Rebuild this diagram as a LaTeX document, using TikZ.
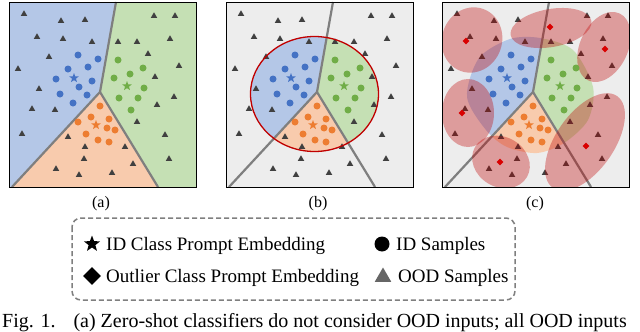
\documentclass[tikz,border=0pt]{standalone}
\usepackage{fontspec}
\setmainfont{Liberation Serif}
\usepackage{xcolor}
\usetikzlibrary{shapes.geometric}

\definecolor{regblue}{HTML}{B4C7E7}
\definecolor{reggreen}{HTML}{C5E0B4}
\definecolor{regorange}{HTML}{F8CBAD}
\definecolor{dotblue}{HTML}{4472C4}
\definecolor{dotgreen}{HTML}{70AD47}
\definecolor{dotorange}{HTML}{ED7D31}
\definecolor{bggray}{HTML}{EDEDED}
\definecolor{linegray}{HTML}{7F7F7F}
\definecolor{oodgray}{HTML}{404040}
\definecolor{outred}{HTML}{C00000}

% marker positions, pixel units from the top left corner of panel (a)
\newcommand\oodlist{24/14, 61/21, 85/20, 154/16, 175/16, 37/37, 63/39, 92/42, 118/42, 137/42, 170/39, 148/54, 49/57, 18/69, 179/66, 155/77, 39/89, 174/97, 32/109, 55/110, 157/105, 137/122, 22/134, 165/135, 68/137, 125/147, 85/147, 84/159, 169/159, 133/164, 56/169, 112/173, 79/175}
\newcommand\bluelist{78/55, 98/59, 68/69, 88/67, 56/79, 92/81, 79/87, 60/94, 87/95, 73/103}
\newcommand\greenlist{118/60, 143/68, 130/74, 114/78, 144/88, 119/98, 138/98, 131/110}
\newcommand\orangelist{100/106, 91/117, 109/119, 78/122, 107/128, 115/130, 86/134, 98/140, 109/142}

% all markers of one panel, #1 = prefix of the node names
\newcommand\panelmarks[1]{%
  \foreach \x/\y [count=\i] in \oodlist {\node[oodmark] (#1ood\i) at (\x,\y) {};}
}
\newcommand\idmarks[1]{%
  \foreach \x/\y [count=\i] in \bluelist {\node[iddot, fill=dotblue] (#1blue\i) at (\x,\y) {};}
  \foreach \x/\y [count=\i] in \greenlist {\node[iddot, fill=dotgreen] (#1green\i) at (\x,\y) {};}
  \foreach \x/\y [count=\i] in \orangelist {\node[iddot, fill=dotorange] (#1orange\i) at (\x,\y) {};}
  \node[idstar, fill=dotblue] (#1starblue) at (74,78) {};
  \node[idstar, fill=dotgreen] (#1stargreen) at (127,86) {};
  \node[idstar, fill=dotorange] (#1starorange) at (96,125) {};
}

\begin{document}
\begin{tikzpicture}[x=1pt, y=-1pt,
    oodmark/.style={regular polygon, regular polygon sides=3, fill=oodgray, inner sep=0pt, minimum size=7.5pt},
    iddot/.style={circle, inner sep=0pt, minimum size=7pt},
    idstar/.style={star, star points=5, star point ratio=2.4, inner sep=0pt, minimum size=10pt},
    outdiamond/.style={diamond, fill=red!85!black, inner sep=0pt, minimum size=7pt},
    bound/.style={linegray, line width=2.2pt},
    frame/.style={black, line width=1pt},
    oodzone/.style={fill=outred, fill opacity=0.34},
    sublabel/.style={font=\fontsize{16}{18}\selectfont, inner sep=0pt},
    legendtext/.style={font=\fontsize{19}{22}\selectfont, inner sep=0pt, anchor=base west},
    legendbox/.style={linegray, line width=1.5pt, dash pattern=on 5pt off 3pt, rounded corners=9pt}]

  \clip (0,0) rectangle (640,332);

  % (a) zero-shot partition
  \begin{scope}
    \fill[regblue] (9,2) -- (116,2) -- (100,92) -- (12,187) -- (9,187) -- cycle;
    \fill[reggreen] (116,2) -- (196,2) -- (196,187) -- (158,187) -- (100,92) -- cycle;
    \fill[regorange] (100,92) -- (158,187) -- (12,187) -- cycle;
    \draw[bound] (116,2) -- (100,92) -- (12,187);
    \draw[bound] (100,92) -- (158,187);
    \panelmarks{a}
    \idmarks{a}
    \draw[frame] (9,2) rectangle (196,187);
  \end{scope}

  % (b) bounded ID region
  \begin{scope}[shift={(217,0)}]
    \fill[bggray] (9,2) rectangle (196,187);
    \begin{scope}
      \clip (97.5,94) ellipse [x radius=64, y radius=57.5];
      \fill[regblue] (9,2) -- (116,2) -- (100,92) -- (12,187) -- (9,187) -- cycle;
      \fill[reggreen] (116,2) -- (196,2) -- (196,187) -- (158,187) -- (100,92) -- cycle;
      \fill[regorange] (100,92) -- (158,187) -- (12,187) -- cycle;
    \end{scope}
    \draw[bound] (116,2) -- (100,92) -- (12,187);
    \draw[bound] (100,92) -- (158,187);
    \panelmarks{b}
    \draw[outred, line width=1.3pt] (97.5,94) ellipse [x radius=64, y radius=57.5];
    \idmarks{b}
    \draw[frame] (9,2) rectangle (196,187);
  \end{scope}

  % (c) outlier class prompts
  \begin{scope}[shift={(433,0)}]
    \fill[bggray] (9,2) rectangle (196,187);
    \begin{scope}
      \clip plot[smooth cycle] coordinates {(34,97) (46,58) (77,39) (107,38) (140,50) (160,87) (155,120) (131,143) (104,153) (74,147) (53,130)};
      \fill[regblue] (9,2) -- (116,2) -- (100,92) -- (12,187) -- (9,187) -- cycle;
      \fill[reggreen] (116,2) -- (196,2) -- (196,187) -- (158,187) -- (100,92) -- cycle;
      \fill[regorange] (100,92) -- (158,187) -- (12,187) -- cycle;
    \end{scope}
    \draw[bound] (116,2) -- (100,92) -- (12,187);
    \draw[bound] (100,92) -- (158,187);
    \panelmarks{c}
    \begin{scope}
      \clip (9,2) rectangle (196,187);
      \fill[oodzone, rotate around={-20:(39,40)}] (39,40) ellipse [x radius=30, y radius=33];
      \fill[oodzone, rotate around={10:(118,28)}] (118,28) ellipse [x radius=41, y radius=19];
      \fill[oodzone, rotate around={-25:(171,47)}] (171,47) ellipse [x radius=24, y radius=37];
      \fill[oodzone] (35,113) ellipse [x radius=26, y radius=34];
      \fill[oodzone, rotate around={-30:(68,162)}] (68,162) ellipse [x radius=30, y radius=25];
      \fill[oodzone, rotate around={-35:(152,142)}] (152,142) ellipse [x radius=29, y radius=56];
    \end{scope}
    \idmarks{c}
    \foreach \x/\y [count=\i] in {33/41, 117/27, 172/49, 29/113, 67/162, 153/146}
      {\node[outdiamond] (cdia\i) at (\x,\y) {};}
    \draw[frame] (9,2) rectangle (196,187);
  \end{scope}

  \node[sublabel] (laba) at (101,204) {(a)};
  \node[sublabel] (labb) at (318,204) {(b)};
  \node[sublabel] (labc) at (535,204) {(c)};

  % legend
  \draw[legendbox] (72,218) rectangle (515,300);
  \node[star, star points=5, star point ratio=2.4, fill=black, inner sep=0pt, minimum size=17pt] (legstar) at (92,244) {};
  \node[legendtext] (legstartext) at (106,250) {ID Class Prompt Embedding};
  \node[circle, fill=black, inner sep=0pt, minimum size=15pt] (legdot) at (382,244) {};
  \node[legendtext] (legdottext) at (396,250) {ID Samples};
  \node[diamond, fill=black, inner sep=0pt, minimum size=18pt] (legdia) at (92,276) {};
  \node[legendtext] (legdiatext) at (106,282) {Outlier Class Prompt Embedding};
  \node[regular polygon, regular polygon sides=3, fill=linegray!80!black, inner sep=0pt, minimum size=19pt] (legtri) at (383,277) {};
  \node[legendtext] (legtritext) at (398,282) {OOD Samples};

  \node[anchor=base west, inner sep=0pt, font=\fontsize{20}{23}\selectfont] (caption) at (2,327.5)
    {Fig. 1.\hspace{0.9em}(a) Zero-shot classifiers do not consider OOD inputs; all OOD inputs};
\end{tikzpicture}
\end{document}
